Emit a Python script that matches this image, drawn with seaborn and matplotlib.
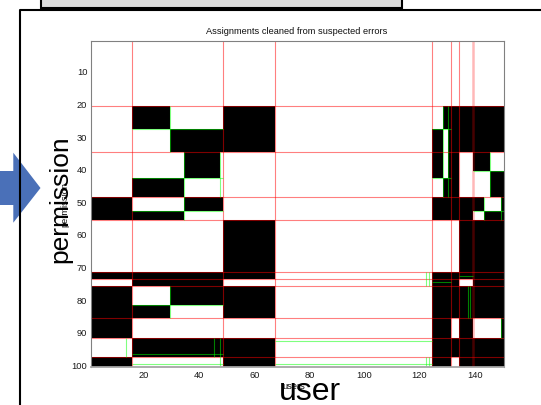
import numpy as np
import matplotlib
matplotlib.use("Agg")
import matplotlib.pyplot as plt
from matplotlib.colors import ListedColormap
from matplotlib import font_manager
from matplotlib.patches import Rectangle, Polygon
from matplotlib.lines import Line2D
import seaborn as sns

# ---- data -------------------------------------------------------------
# permissions per row group (top to bottom) and users per column group
row_group_sizes = [20, 7, 7, 6, 2, 6, 4, 3, 16, 2, 2, 6, 4, 6, 6, 3]
col_group_sizes = [15, 14, 5, 13, 1, 19, 57, 4, 2, 1, 3, 5, 4, 2, 4, 1]

# 1 = permission assigned to every user of the column group
group_pattern = [
    [0, 0, 0, 0, 0, 0, 0, 0, 0, 0, 0, 0, 0, 0, 0, 0],
    [0, 1, 0, 0, 0, 1, 0, 0, 1, 1, 1, 1, 1, 1, 1, 1],
    [0, 0, 1, 1, 1, 1, 0, 1, 0, 1, 1, 1, 1, 1, 1, 1],
    [0, 0, 0, 1, 0, 0, 0, 1, 0, 1, 1, 0, 1, 1, 0, 0],
    [0, 0, 0, 1, 0, 0, 0, 1, 0, 1, 1, 0, 0, 0, 1, 1],
    [0, 1, 1, 0, 0, 0, 0, 0, 1, 1, 1, 0, 0, 0, 1, 1],
    [1, 0, 0, 1, 1, 0, 0, 1, 1, 1, 1, 1, 1, 0, 0, 1],
    [1, 1, 1, 0, 0, 0, 0, 1, 1, 1, 1, 1, 0, 1, 1, 1],
    [0, 0, 0, 0, 0, 1, 0, 0, 0, 0, 0, 1, 1, 1, 1, 1],
    [1, 1, 1, 1, 1, 1, 0, 1, 1, 1, 1, 1, 1, 1, 1, 1],
    [0, 1, 1, 1, 1, 0, 0, 1, 1, 1, 1, 0, 1, 1, 1, 1],
    [1, 0, 1, 1, 1, 1, 0, 1, 1, 1, 1, 1, 1, 1, 1, 1],
    [1, 1, 0, 0, 0, 1, 0, 1, 1, 1, 1, 1, 1, 1, 1, 1],
    [1, 0, 0, 0, 0, 0, 0, 1, 1, 1, 0, 1, 0, 0, 0, 1],
    [0, 1, 1, 1, 1, 1, 0, 1, 1, 1, 1, 1, 1, 1, 1, 1],
    [1, 0, 0, 0, 0, 1, 0, 1, 1, 1, 0, 1, 1, 1, 1, 1],
]

# role boundaries (after this many rows / columns)
role_row_cuts = [20, 34, 48, 55, 71, 73, 75, 85, 91, 97]
role_col_cuts = [15, 48, 67, 124, 131, 134, 139]

# sub-role boundaries: (column, first row, last row) and (row, first col, last col)
sub_col_cuts = [(29, 20, 34), (34, 34, 55), (47, 34, 48), (128, 20, 48),
                (130, 20, 48), (145, 34, 48), (143, 48, 55), (149, 48, 55),
                (122, 71, 75), (123, 71, 75), (29, 75, 85), (137, 75, 85),
                (138, 75, 85), (149, 85, 91), (13, 91, 97), (45, 91, 97),
                (47, 91, 100), (122, 97, 100), (123, 97, 100)]
sub_row_cuts = [(27, 15, 48), (27, 124, 131), (42, 15, 48), (42, 124, 131),
                (40, 139, 150), (52, 15, 48), (52, 139, 150), (72, 134, 139),
                (74, 124, 131), (81, 15, 48), (92, 67, 124), (96, 15, 48),
                (99, 15, 48), (99, 67, 124)]

user_ticks = [20, 40, 60, 80, 100, 120, 140]
perm_ticks = [10, 20, 30, 40, 50, 60, 70, 80, 90, 100]

title = "Assignments cleaned from suspected errors"
x_name, y_name = "users", "permission"
big_x, big_y = "user", "permission"

# ---- matrix -------------------------------------------------------------
pattern = np.array(group_pattern)
matrix = np.repeat(np.repeat(pattern, row_group_sizes, axis=0), col_group_sizes, axis=1)

# ---- figure -------------------------------------------------------------
sns.set_style("white")
plt.rcParams["font.family"] = ["Liberation Sans", "DejaVu Sans"]

W, H = 541, 405
fig = plt.figure(figsize=(W / 100, H / 100), dpi=100)
fig.patch.set_facecolor("white")


def fx(x):
    return x / W


def fy(y):
    return 1 - y / H


ax = fig.add_axes([fx(90.5), fy(367), (503.5 - 90.5) / W, (367 - 41) / H])
sns.heatmap(matrix, cmap=ListedColormap(["white", "black"]), cbar=False,
            xticklabels=False, yticklabels=False, ax=ax, vmin=0, vmax=1)

red = (1, 0, 0, 0.5)
green = (0, 1, 0, 0.5)
for c in role_col_cuts:
    if c == 139:
        ax.axvline(c, color=(1, 0, 0, 0.28), lw=1.8)
    else:
        ax.axvline(c, color=red, lw=0.8)
for r in role_row_cuts:
    ax.axhline(r, color=red, lw=0.8)
for c, r0, r1 in sub_col_cuts:
    ax.vlines(c, r0, r1, colors=[green], lw=0.8)
for r, c0, c1 in sub_row_cuts:
    ax.hlines(r, c0, c1, colors=[green], lw=0.8)

for name, s in ax.spines.items():
    s.set_visible(True)
    s.set_color("#808080")
    s.set_linewidth(0.8)
ax.spines["bottom"].set_color("#a6a6a6")
ax.spines["bottom"].set_linewidth(1.3)

ax.set_xticks([t - 0.5 for t in user_ticks])
ax.set_xticklabels([str(t) for t in user_ticks])
ax.set_yticks([t - 0.5 for t in perm_ticks])
ax.set_yticklabels([str(t) for t in perm_ticks], rotation=0)
ax.tick_params(axis="both", direction="in", top=True, right=True,
               length=2.6, width=0.6, color="#808080", labelsize=6.7,
               labelcolor="#1a1a1a")
ax.tick_params(axis="x", pad=3.0)
ax.tick_params(axis="y", pad=2.3)

ax.set_title(title, fontsize=6.7, pad=5.4, color="#111111")
ax.set_xlabel(x_name, fontsize=6.7, color="#111111", va="center")
ax.set_ylabel(y_name, fontsize=6.7, color="#111111", va="center")
ax.xaxis.set_label_coords((293.6 - 90.5) / 413, (367 - 386.5) / 326)
ax.yaxis.set_label_coords((65 - 90.5) / 413, 0.5)

# ---- slide elements -------------------------------------------------------
fig.add_artist(Rectangle((fx(41.4), fy(8.3)), fx(402 - 41.4), 0.1,
                         transform=fig.transFigure, facecolor="#dcdcdc",
                         edgecolor="black", lw=1.5))
arrow_pts = [(0, 171), (13.3, 171), (13.3, 152.7), (40.5, 188),
             (13.3, 222.7), (13.3, 205), (0, 205)]
fig.add_artist(Polygon([(fx(x), fy(y)) for x, y in arrow_pts],
                       transform=fig.transFigure, facecolor="#4a70b8",
                       edgecolor="none"))
fig.add_artist(Line2D([fx(20), fx(20), fx(560)], [fy(420), fy(9.8), fy(9.8)],
                      transform=fig.transFigure, color="black", lw=1.5))

names = {f.name for f in font_manager.fontManager.ttflist}
narrow = "Liberation Sans Narrow" if "Liberation Sans Narrow" in names else None
fig.text(fx(60.5), fy(199), big_y, rotation=90, ha="center", va="center",
         fontsize=19, color="black")
if narrow:
    fig.text(fx(310), fy(400), big_x, ha="center", va="baseline",
             fontsize=27.5, family=narrow, color="black")
else:
    fig.text(fx(310), fy(400), big_x, ha="center", va="baseline",
             fontsize=23, color="black")

fig.savefig("out.png", dpi=100)
